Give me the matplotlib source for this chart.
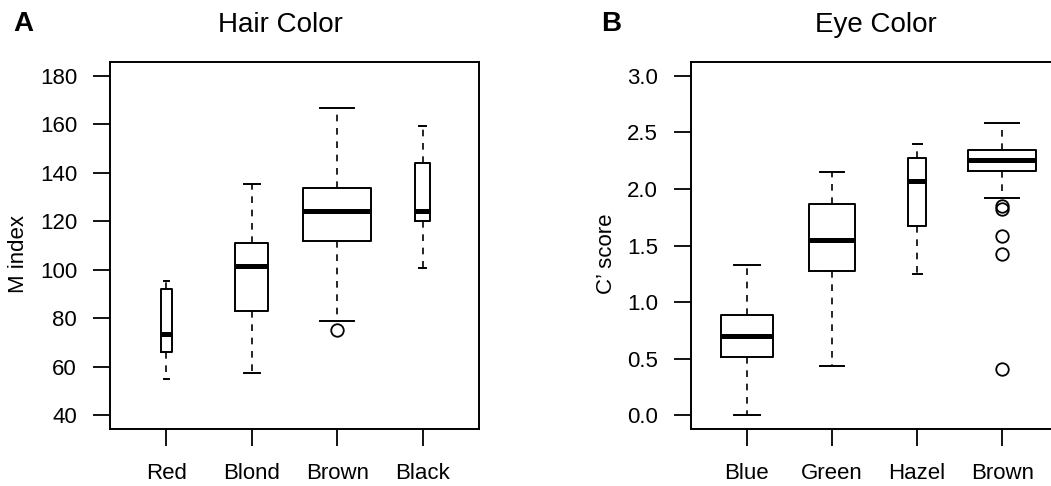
import numpy as np
import matplotlib
matplotlib.use("Agg")
import matplotlib.pyplot as plt

plt.rcParams["font.family"] = ["Liberation Sans", "DejaVu Sans"]

###############################################################################
# hair color / M index

hair = ["Red", "Blond", "Brown", "Black"]
hair_lo = [55.2, 57.3, 78.7, 100.8]
hair_q1 = [66.1, 83.2, 111.8, 119.9]
hair_med = [73.5, 101.5, 124.3, 124.4]
hair_q3 = [92.0, 110.9, 133.8, 144.0]
hair_hi = [95.2, 135.5, 166.8, 159.1]
hair_out = [[], [], [75.0], []]
hair_w = [0.133, 0.388, 0.8, 0.18]

###############################################################################
# eye color / C' score

eye = ["Blue", "Green", "Hazel", "Brown"]
eye_lo = [0.0, 0.435, 1.244, 1.917]
eye_q1 = [0.512, 1.277, 1.674, 2.160]
eye_med = [0.697, 1.550, 2.071, 2.253]
eye_q3 = [0.889, 1.862, 2.274, 2.341]
eye_hi = [1.33, 2.147, 2.397, 2.582]
eye_out = [[], [], [], [1.847, 1.826, 1.588, 1.429, 0.406]]
eye_w = [0.612, 0.549, 0.215, 0.8]

###############################################################################

W, H = 1051, 486
fig = plt.figure(figsize=(W / 100, H / 100), dpi=100)


def px(x0, y0, x1, y1):
	return [x0 / W, 1 - y1 / H, (x1 - x0) / W, (y1 - y0) / H]


def panel(ax, names, lo, q1, med, q3, hi, out, widths, ylim, yticks, fmt):
	stats = []
	for i in range(len(names)):
		stats.append(dict(whislo=lo[i], q1=q1[i], med=med[i], q3=q3[i],
			whishi=hi[i], fliers=out[i], label=names[i]))
	ax.bxp(stats, positions=range(1, len(names) + 1), widths=widths,
		capwidths=[w * 0.5 for w in widths], showfliers=True,
		boxprops=dict(color="black", linewidth=1.4),
		medianprops=dict(color="black", linewidth=3.6, solid_capstyle="butt"),
		whiskerprops=dict(color="black", linewidth=1.2, linestyle=(0, (4, 4))),
		capprops=dict(color="black", linewidth=1.4),
		flierprops=dict(marker="o", markersize=9, markerfacecolor="none",
			markeredgecolor="black", markeredgewidth=1.3))
	ax.set_xlim(0.34, 4.66)
	ax.set_ylim(*ylim)
	ax.set_yticks(yticks)
	ax.set_yticklabels([fmt.format(v) for v in yticks])
	ax.set_xticks(range(1, len(names) + 1))
	ax.set_xticklabels(names)
	for s in ax.spines.values():
		s.set_linewidth(1.4)
	ax.tick_params(axis="both", length=12.2, width=1.3, labelsize=16)
	ax.tick_params(axis="y", pad=11.5)
	ax.tick_params(axis="x", pad=12)


axA = fig.add_axes(px(110, 62, 479, 429))
panel(axA, hair, hair_lo, hair_q1, hair_med, hair_q3, hair_hi, hair_out, hair_w,
	(34.4, 185.6), [40, 60, 80, 100, 120, 140, 160, 180], "{:.0f}")

axB = fig.add_axes(px(690.7, 62, 1058.5, 429))
panel(axB, eye, eye_lo, eye_q1, eye_med, eye_q3, eye_hi, eye_out, eye_w,
	(-0.12, 3.12), [0.0, 0.5, 1.0, 1.5, 2.0, 2.5, 3.0], "{:.1f}")

###############################################################################
# titles and labels

fig.text(280.5 / W, 1 - 32.3 / H, "Hair Color", size=20, ha="center", va="baseline")
fig.text(875.5 / W, 1 - 32.3 / H, "Eye Color", size=20, ha="center", va="baseline")
fig.text(13 / W, 1 - 30.7 / H, "A", size=20, weight="bold", ha="left", va="baseline")
fig.text(601 / W, 1 - 30.7 / H, "B", size=20, weight="bold", ha="left", va="baseline")
fig.text(19 / W, 1 - 254 / H, "M index", size=16, rotation=90, ha="center", va="center")
fig.text(606 / W, 1 - 254 / H, "C\u2019 score", size=16, rotation=90, ha="center", va="center")

fig.savefig("out.png", dpi=100)
